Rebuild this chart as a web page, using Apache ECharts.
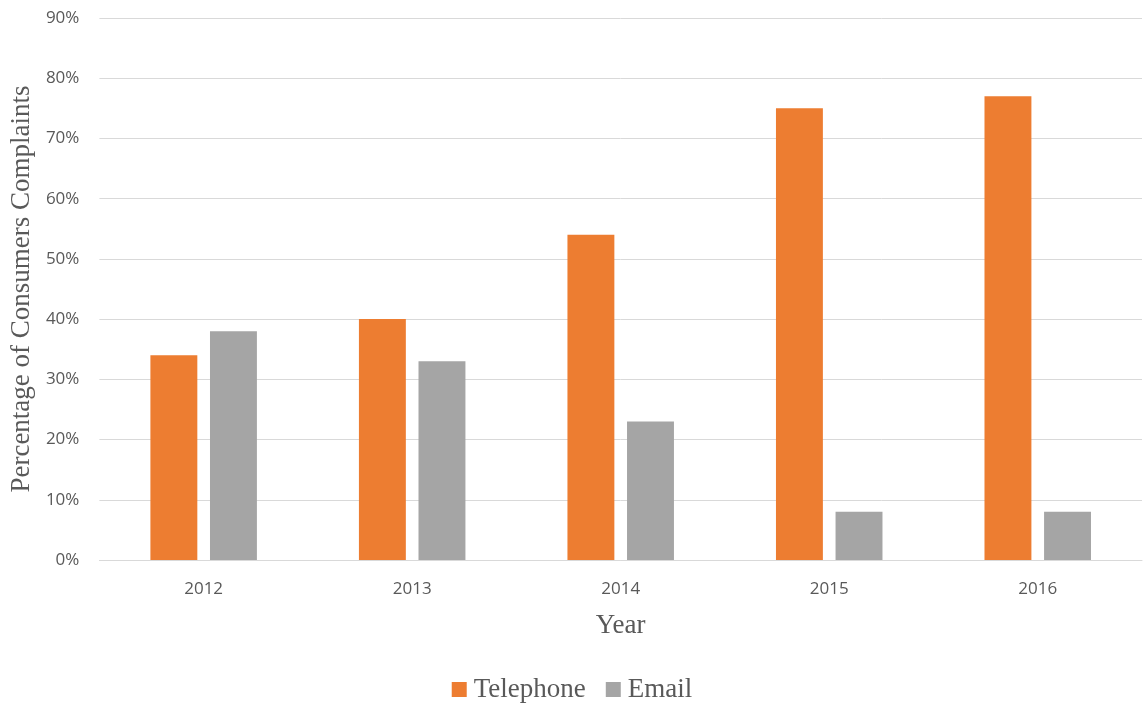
<!DOCTYPE html>
<html>
<head>
<meta charset="utf-8">
<style>
  html, body { margin: 0; padding: 0; background: #fff; }
  #chart { width: 1144px; height: 704px; }
</style>
<script src="https://cdn.jsdelivr.net/npm/echarts@6/dist/echarts.min.js"></script>
</head>
<body>
<div id="chart"></div>
<script>
// Share of consumer complaints by contact channel, per year
const years = ['2012', '2013', '2014', '2015', '2016'];
const telephone = [34, 40, 54, 75, 77];
const email = [38, 33, 23, 8, 8];

const chart = echarts.init(document.getElementById('chart'));
const gridColor = '#d9d9d9';
const textColor = '#595959';

chart.setOption({
  animation: false,
  color: ['#ed7d31', '#a5a5a5'],
  grid: { left: 98, right: 2, top: 18, bottom: 144, containLabel: false },
  legend: {
    top: 671,
    left: 'center',
    itemWidth: 15,
    itemHeight: 15,
    itemGap: 20,
    icon: 'rect',
    textStyle: { fontFamily: 'Liberation Serif', fontSize: 27, color: textColor, padding: [0, 0, 0, 2] }
  },
  xAxis: {
    type: 'category',
    data: years,
    name: 'Year',
    nameLocation: 'middle',
    nameGap: 52,
    nameTextStyle: { fontFamily: 'Liberation Serif', fontSize: 27, color: textColor },
    axisLine: { lineStyle: { color: gridColor, width: 1 } },
    axisTick: { show: false },
    axisLabel: { fontFamily: 'Open Sans', fontSize: 17, color: textColor, margin: 21 }
  },
  yAxis: {
    type: 'value',
    min: 0,
    max: 90,
    interval: 10,
    name: 'Percentage of Consumers Complaints',
    nameLocation: 'middle',
    nameGap: 48,
    nameTextStyle: { fontFamily: 'Liberation Serif', fontSize: 27, color: textColor },
    axisLine: { show: false },
    axisTick: { show: false },
    splitLine: { lineStyle: { color: gridColor, width: 1 } },
    axisLabel: { fontFamily: 'Open Sans', fontSize: 17, color: textColor, margin: 20, formatter: '{value}%' }
  },
  series: [
    { name: 'Telephone', type: 'bar', data: telephone, barWidth: '22.5%', barGap: '27%' },
    { name: 'Email', type: 'bar', data: email, barWidth: '22.5%', barGap: '27%' }
  ]
});
</script>
</body>
</html>
